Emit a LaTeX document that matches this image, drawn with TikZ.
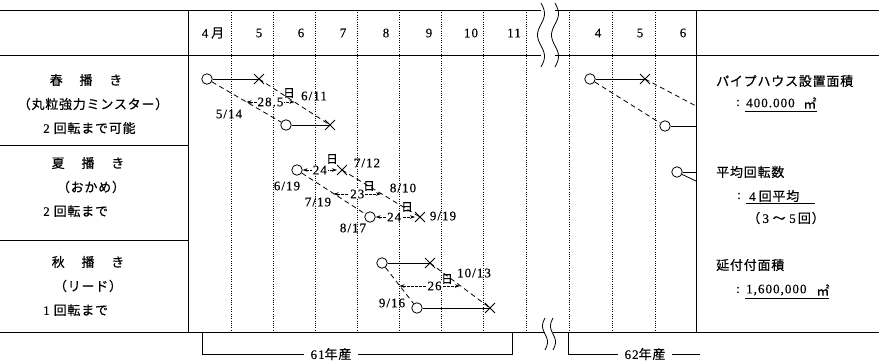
\documentclass[tikz,border=0pt]{standalone}
\usepackage{fontspec}
\setmainfont{Liberation Serif}
\newfontfamily\jp[LetterSpace=6,FakeBold=0.4]{Noto Sans CJK JP}
\newfontfamily\num[LetterSpace=8,FakeBold=0.3]{Liberation Serif}
\usetikzlibrary{arrows.meta,shapes.misc,calc}
\begin{document}
\begin{tikzpicture}[x=1pt,y=-1pt,
  frame/.style={line width=0.8pt},
  dotln/.style={line width=0.7pt, dash pattern=on 0.7pt off 1.6pt},
  wavy/.style={line width=0.8pt},
  jpt/.style={font=\jp\fontsize{13}{15}\selectfont, inner sep=0pt},
  jps/.style={font=\jp\fontsize{11.5}{13}\selectfont, inner sep=0pt},
  numt/.style={font=\num\fontsize{13}{15}\selectfont, inner sep=0pt},
  ring/.style={circle, draw, line width=0.8pt, minimum size=10.5pt, inner sep=0pt},
  xm/.style={cross out, draw, line width=0.9pt, minimum size=9pt, inner sep=0pt},
  solidln/.style={line width=0.8pt},
  dashln/.style={line width=0.8pt, dash pattern=on 5pt off 3.5pt},
  dimarr/.style={line width=0.7pt, dash pattern=on 3pt off 1pt, {Stealth[length=5pt,width=3.5pt]}-{Stealth[length=5pt,width=3.5pt]}},
  lbl/.style={fill=white, inner sep=0.8pt}
]
\useasboundingbox (0,0) rectangle (879,364);

% ---------- frame ----------
\draw[frame] (0,10) -- (541,10) (555,10) -- (879,10);
\draw[frame] (0,55) -- (541,55) (555,55) -- (879,55);
\draw[frame] (0,332) -- (545,332) (553,332) -- (879,332);
\draw[frame] (0,145) -- (188,145) (0,240) -- (188,240);
\draw[frame] (188,10) -- (188,332) (696,10) -- (696,332);
\foreach \gx in {231,273,315,357,399,441,483,526,569,612,655}
  \draw[dotln] (\gx,10) -- (\gx,332);

% ---------- break marks ----------
\foreach \w in {541,555}
  \draw[wavy] plot[domain=0:1,samples=40,smooth] ({\w+3.5*sin(540*\x)},{3+64*\x});
\foreach \w in {545,553}
  \draw[wavy] plot[domain=0:1,samples=30,smooth] ({\w-2.5*sin(360*\x)},{318+32*\x});

% ---------- header ----------
\node[numt] (m4)  at (213,33) {4\hspace{3pt}{\jp 月}};
\node[numt] (m5)  at (259,33) {5};
\node[numt] (m6)  at (301,33) {6};
\node[numt] (m7)  at (343,33) {7};
\node[numt] (m8)  at (386,33) {8};
\node[numt] (m9)  at (429,33) {9};
\node[numt] (m10) at (471,33) {10};
\node[numt] (m11) at (514,33) {11};
\node[numt] (n4)  at (598,33) {4};
\node[numt] (n5)  at (640,33) {5};
\node[numt] (n6)  at (683,33) {6};

% ---------- row labels ----------
\node[jpt] (r1a) at (86,80) {春　\kern3pt 播　\kern3pt き};
\node[jpt] (r1b) at (93,104) {（丸粒強力ミンスター）};
\node[jpt,anchor=west] (r1c) at (43,128) {{\num 2}\hspace{4pt}回転まで可能};
\node[jpt] (r2a) at (88,163) {夏　\kern3pt 播　\kern3pt き};
\node[jpt] (r2b) at (91,187) {（おかめ）};
\node[jpt,anchor=west] (r2c) at (43,211) {{\num 2}\hspace{4pt}回転まで};
\node[jpt] (r3a) at (88,262) {秋　\kern3pt 播　\kern3pt き};
\node[jpt] (r3b) at (88,286) {（リード）};
\node[jpt,anchor=west] (r3c) at (43,310) {{\num 1}\hspace{4pt}回転まで};

% ---------- spring ----------
\node[ring] (c1) at (207,79) {};
\node[xm]   (x1) at (259,79) {};
\node[ring] (c2) at (286,125) {};
\node[xm]   (x2) at (330,125) {};
\draw[solidln] (c1) -- (x1.center);
\draw[solidln] (c2) -- (x2.center);
\draw[dashln] (c1) -- (c2);
\draw[dashln] (x1.center) -- (x2.center);
\coordinate (a1) at (246.5,102);
\coordinate (b1) at (294.5,102);
\draw[dimarr] (a1) -- node[numt,lbl,pos=0.5] (t1) {28.5} (b1);
\node[jps] (d1) at (289,93) {日};
\node[numt] (s611) at (314,96) {6/11};
\node[numt] (s514) at (229,114) {5/14};

% ---------- summer ----------
\node[ring] (c3) at (297,170) {};
\node[xm]   (x3) at (342,170) {};
\node[ring] (c4) at (370,217) {};
\node[xm]   (x4) at (420,217) {};
\draw[dashln] (c3) -- (c4);
\draw[dashln] (x3.center) -- (x4.center);
\draw[dimarr] (c3) -- node[numt,lbl,pos=0.5] (t2) {24} (x3);
\node[jps] (d2) at (332,159) {日};
\coordinate (a3) at (333.5,194);
\coordinate (b3) at (381,194);
\draw[dimarr] (a3) -- node[numt,lbl,pos=0.5] (t3) {23} (b3);
\node[jps] (d3) at (369,186) {日};
\draw[dimarr] (c4) -- node[numt,lbl,pos=0.47] (t4) {24} (x4);
\node[jps] (d4) at (407,207) {日};
\node[numt] (s712) at (367,163) {7/12};
\node[numt] (s619) at (287,186) {6/19};
\node[numt] (s810) at (403,188) {8/10};
\node[numt] (s719) at (318,202) {7/19};
\node[numt] (s817) at (353,228) {8/17};
\node[numt] (s919) at (443,216) {9/19};

% ---------- autumn ----------
\node[ring] (c5) at (382,263) {};
\node[xm]   (x5) at (430,263) {};
\node[ring] (c6) at (417,308) {};
\node[xm]   (x6) at (490,308) {};
\draw[solidln] (c5) -- (x5.center);
\draw[solidln] (c6) -- (x6.center);
\draw[dashln] (c5) -- (c6);
\draw[dashln] (x5.center) -- (x6.center);
\coordinate (a5) at (399.5,286);
\coordinate (b5) at (460,286);
\draw[dimarr] (a5) -- node[numt,lbl,pos=0.58] (t5) {26} (b5);
\node[jps] (d5) at (447,279) {日};
\node[numt] (s1013) at (474,273) {10/13};
\node[numt] (s916) at (392,303) {9/16};

% ---------- year 62 ----------
\node[ring] (c7) at (590,79) {};
\node[xm]   (x7) at (645,79) {};
\node[ring] (c8) at (665,126) {};
\node[ring] (c9) at (677,172) {};
\coordinate (e1) at (696,106);
\coordinate (e2) at (696,126);
\coordinate (e3) at (696,172);
\coordinate (e4) at (696,181);
\draw[solidln] (c7) -- (x7.center);
\draw[dashln] (x7.center) -- (e1);
\draw[dashln] (c7) -- (c8);
\draw[solidln] (c8) -- (e2);
\draw[solidln] (c9) -- (e3);
\draw[solidln] (c9) -- (e4);

% ---------- right notes ----------
\node[jpt,anchor=west] (p1) at (716,81) {パイプハウス設置面積};
\node[numt] (p1c) at (738,103) {:};
\node[numt,anchor=west] (p1v) at (746,103) {400.000};
\node[jpt] (p1u) at (810,103) {㎡};
\draw[line width=0.7pt] (745,111) -- (817,111);

\node[jpt,anchor=west] (p2) at (716,172) {平均回転数};
\node[numt] (p2c) at (739,196) {:};
\node[jpt,anchor=west] (p2v) at (749,196) {{\num 4}\hspace{3pt}回平均};
\draw[line width=0.7pt] (746,203) -- (815,203);
\node[jpt] (p2r) at (786,218) {（\,{\num 3}\;～\;{\num 5}\,回）};

\node[jpt,anchor=west] (p3) at (716,265) {延付付面積};
\node[numt] (p3c) at (738,290) {:};
\node[numt,anchor=west] (p3v) at (746,290) {1,600,000};
\node[jpt] (p3u) at (823,290) {㎡};
\draw[line width=0.7pt] (745,298) -- (829,298);

% ---------- year brackets ----------
\node[numt] (y61) at (331,354) {61{\jp 年産}};
\coordinate (y61l) at (202,332);
\coordinate (y61r) at (512,332);
\draw[frame] (y61l) |- ([xshift=-6pt]y61.west);
\draw[frame] (y61r) |- ([xshift=6pt]y61.east);
\node[numt] (y62) at (645,354) {62{\jp 年産}};
\coordinate (y62l) at (568,332);
\coordinate (y62r) at (700,354);
\draw[frame] (y62l) |- ([xshift=-6pt]y62.west);
\draw[frame] ([xshift=6pt]y62.east) -- (y62r);
\end{tikzpicture}
\end{document}
